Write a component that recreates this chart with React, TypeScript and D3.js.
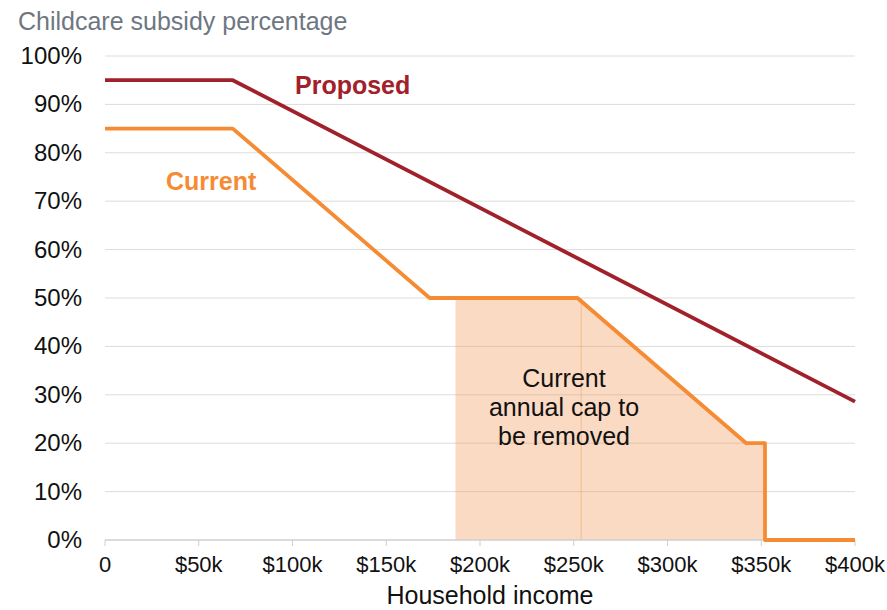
import * as d3 from 'd3';

// Household income ($) and subsidy rate (%) break points
const currentIncome = [0, 68163, 173163, 252000, 342000, 352000, 352000, 400000];
const currentRate = [85, 85, 50, 50, 20, 20, 0, 0];
const proposedIncome = [0, 68163, 400000];
const proposedRate = [95, 95, 28.6];
// Part of the current schedule that sits above the annual cap income
const capIncome = [186958, 252000, 342000, 352000];
const capRate = [50, 50, 20, 20];
const capBreak = 254000;

const xTicks = [0, 50000, 100000, 150000, 200000, 250000, 300000, 350000, 400000];
const yTicks = [0, 10, 20, 30, 40, 50, 60, 70, 80, 90, 100];

const width = 887;
const height = 610;
const font = '"Liberation Sans", Arial, sans-serif';

export default function App() {
  const x = d3.scaleLinear().domain([0, 400000]).range([105, 855]);
  const y = d3.scaleLinear().domain([0, 100]).range([540, 56]);

  const line = d3.line<[number, number]>()
    .x(d => x(d[0]))
    .y(d => y(d[1]));

  const area = d3.area<[number, number]>()
    .x(d => x(d[0]))
    .y0(y(0))
    .y1(d => y(d[1]));

  const current = currentIncome.map((v, i) => [v, currentRate[i]] as [number, number]);
  const proposed = proposedIncome.map((v, i) => [v, proposedRate[i]] as [number, number]);
  const cap = capIncome.map((v, i) => [v, capRate[i]] as [number, number]);

  const xLabel = (v: number) => (v === 0 ? '0' : `$${v / 1000}k`);

  return (
    <svg width={width} height={height} style={{ position: 'absolute', left: 0, top: 0, fontFamily: font }}>
      <text x={18} y={30} fontSize={25} fill="#6e7781">Childcare subsidy percentage</text>

      {/* gridlines */}
      {yTicks.filter(t => t > 0).map(t => (
        <line key={t} x1={105} x2={855} y1={y(t)} y2={y(t)} stroke="#dcdcdc" strokeWidth={1} />
      ))}

      {/* cap area */}
      <path d={area(cap) ?? ''} fill="rgb(240,150,80)" fillOpacity={0.35} />
      <line x1={x(capBreak)} x2={x(capBreak)} y1={y(0)} y2={y(50)} stroke="#f0a670" strokeOpacity={0.6} strokeWidth={1} />

      {/* x axis */}
      <line x1={105} x2={855} y1={y(0)} y2={y(0)} stroke="#cfcfcf" strokeWidth={1.5} />
      {xTicks.map(t => (
        <g key={t}>
          <line x1={x(t)} x2={x(t)} y1={y(0)} y2={y(0) + 6} stroke="#cfcfcf" strokeWidth={1} />
          <text x={x(t)} y={572} textAnchor="middle" fontSize={22} fill="#111">{xLabel(t)}</text>
        </g>
      ))}
      {yTicks.map(t => (
        <text key={t} x={82} y={y(t) + 8} textAnchor="end" fontSize={24} fill="#111">{t}%</text>
      ))}
      <text x={490} y={604} textAnchor="middle" fontSize={25} fill="#111">Household income</text>

      {/* series */}
      <path d={line(proposed) ?? ''} fill="none" stroke="#a0212a" strokeWidth={3.8} strokeLinejoin="round" />
      <path d={line(current) ?? ''} fill="none" stroke="#f58b33" strokeWidth={3.8} strokeLinejoin="round" />

      <text x={295} y={94} fontSize={25} fontWeight="bold" fill="#a0212a">Proposed</text>
      <text x={166} y={190} fontSize={25} fontWeight="bold" fill="#f58b33">Current</text>

      <text textAnchor="middle" fontSize={25} fill="#111">
        <tspan x={564} y={387}>Current</tspan>
        <tspan x={564} y={416}>annual cap to</tspan>
        <tspan x={564} y={445}>be removed</tspan>
      </text>
    </svg>
  );
}
